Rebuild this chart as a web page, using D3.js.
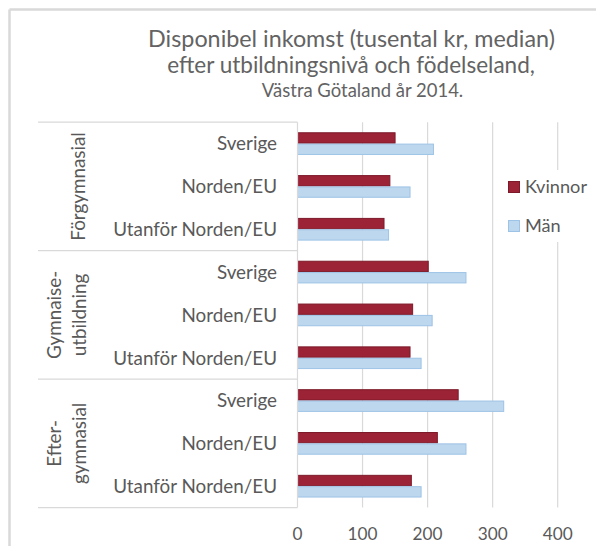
<!DOCTYPE html>
<html><head><meta charset="utf-8">
<script src="https://cdn.jsdelivr.net/npm/d3@7"></script>
<style>
html,body{margin:0;padding:0;background:#fff;}
svg{display:block;}
text{font-family:Lato,"Open Sans",sans-serif;fill:#595959;}
</style></head>
<body>
<svg id="chart" width="596" height="546"></svg>
<script>
const titleLines = ["Disponibel inkomst (tusental kr, median)", "efter utbildningsnivå och födelseland,", "Västra Götaland år 2014."];
const groups = [["Förgymnasial"], ["Gymnaise-", "utbildning"], ["Efter-", "gymnasial"]];
const origins = ["Sverige", "Norden/EU", "Utanför Norden/EU"];
const seriesNames = ["Kvinnor", "Män"];
const kvinnor = [150, 142, 133, 201, 177, 173, 247, 215, 175];
const man = [209, 173, 140, 259, 207, 190, 317, 259, 190];
const xTicks = [0, 100, 200, 300, 400];

const svg = d3.select("#chart");
const colors = {Kvinnor: "#9b2335", "Män": "#bdd7ee"};
const strokes = {Kvinnor: "#7d1a2a", "Män": "#9dc3e6"};

// fit font size so that text reaches the target width
function fit(sel, target) {
  sel.style("font-size", "20px");
  const w = sel.node().getComputedTextLength();
  const fs = 20 * target / w;
  sel.style("font-size", fs + "px");
  return fs;
}

// outer frame
svg.append("line").attr("x1", 9.5).attr("x2", 596).attr("y1", 9.5).attr("y2", 9.5)
  .attr("stroke", "#d9d9d9").attr("stroke-width", 2.5);
svg.append("line").attr("x1", 9.5).attr("x2", 9.5).attr("y1", 9.5).attr("y2", 546)
  .attr("stroke", "#d9d9d9").attr("stroke-width", 2.5);

// title
const tPos = [[351.5, 47, 407], [351, 73, 368], [362.5, 97, 201.6]];
titleLines.forEach((t, i) => {
  const el = svg.append("text").attr("x", tPos[i][0]).attr("y", tPos[i][1])
    .attr("text-anchor", "middle").style("fill", "#636363").text(t);
  fit(el, tPos[i][2]);
});

// data rows
const rows = [];
groups.forEach((g, gi) => origins.forEach((o, oi) => rows.push({key: gi + "-" + oi, group: gi, origin: o, Kvinnor: kvinnor[gi * 3 + oi], "Män": man[gi * 3 + oi]})));

const y = d3.scaleBand().domain(rows.map(d => d.key)).range([122.2, 507.6]).paddingInner(0.47).paddingOuter(0.235);
const ySub = d3.scaleBand().domain(seriesNames).range([0, y.bandwidth()]);
const x = d3.scaleLinear().domain([0, 400]).range([297.5, 557.7]);

// gridlines
svg.append("g").selectAll("line").data(xTicks.slice(1)).join("line")
  .attr("x1", d => x(d)).attr("x2", d => x(d))
  .attr("y1", 122.2).attr("y2", 507.6)
  .attr("stroke", "#d9d9d9").attr("stroke-width", 1.2);

// bars
const rowG = svg.append("g").selectAll("g").data(rows).join("g")
  .attr("transform", d => `translate(0,${y(d.key)})`);
rowG.selectAll("rect").data(d => seriesNames.map(s => ({s, v: d[s]}))).join("rect")
  .attr("x", x(0)).attr("y", d => ySub(d.s) + 0.5)
  .attr("width", d => x(d.v) - x(0)).attr("height", ySub.bandwidth() - 1)
  .attr("fill", d => colors[d.s]).attr("stroke", d => strokes[d.s]).attr("stroke-width", 1);

// category axis box
const ax = svg.append("g");
const bounds = [0, 3, 6, 9].map(i => 122.2 + i * y.step());
bounds.forEach(b => ax.append("line").attr("x1", 38).attr("x2", x(0)).attr("y1", b).attr("y2", b)
  .attr("stroke", "#d9d9d9").attr("stroke-width", 1.2));
ax.append("line").attr("x1", x(0)).attr("x2", x(0)).attr("y1", 122.2).attr("y2", 507.6)
  .attr("stroke", "#d9d9d9").attr("stroke-width", 1.2);

// category labels
const probe = ax.append("text").text("Utanför Norden/EU");
const catFs = fit(probe, 164);
probe.remove();
ax.selectAll("text.cat").data(rows).join("text").attr("class", "cat")
  .attr("x", 277).attr("y", d => y(d.key) + y.bandwidth() / 2)
  .attr("dy", "0.36em").attr("text-anchor", "end")
  .style("font-size", catFs + "px").text(d => d.origin);

// group labels
const gx = {1: [85], 2: [61, 86]};
groups.forEach((g, gi) => {
  const cy = (bounds[gi] + bounds[gi + 1]) / 2;
  const xs = gx[g.length];
  g.forEach((line, li) => {
    ax.append("text").attr("transform", `translate(${xs[li]},${cy}) rotate(-90)`)
      .attr("text-anchor", "middle").style("font-size", catFs + "px").text(line);
  });
});

// x tick labels
const tk = svg.append("g");
const probe2 = tk.append("text").text("100");
const tickFs = fit(probe2, 30);
probe2.remove();
tk.selectAll("text").data(xTicks).join("text")
  .attr("x", d => x(d)).attr("y", 540).attr("text-anchor", "middle")
  .style("font-size", tickFs + "px").text(d => d);

// legend
const lg = svg.append("g");
lg.append("rect").attr("x", 502).attr("y", 170).attr("width", 92).attr("height", 72).attr("fill", "#fff");
const probe3 = lg.append("text").text("Kvinnor");
const legFs = fit(probe3, 62);
probe3.remove();
seriesNames.forEach((s, i) => {
  const yy = 181 + i * 39;
  lg.append("rect").attr("x", 508.5).attr("y", yy + 0.5).attr("width", 11).attr("height", 11)
    .attr("fill", colors[s]).attr("stroke", strokes[s]);
  lg.append("text").attr("x", 525).attr("y", yy + 11.7).style("font-size", legFs + "px").text(s);
});
</script>
</body></html>
